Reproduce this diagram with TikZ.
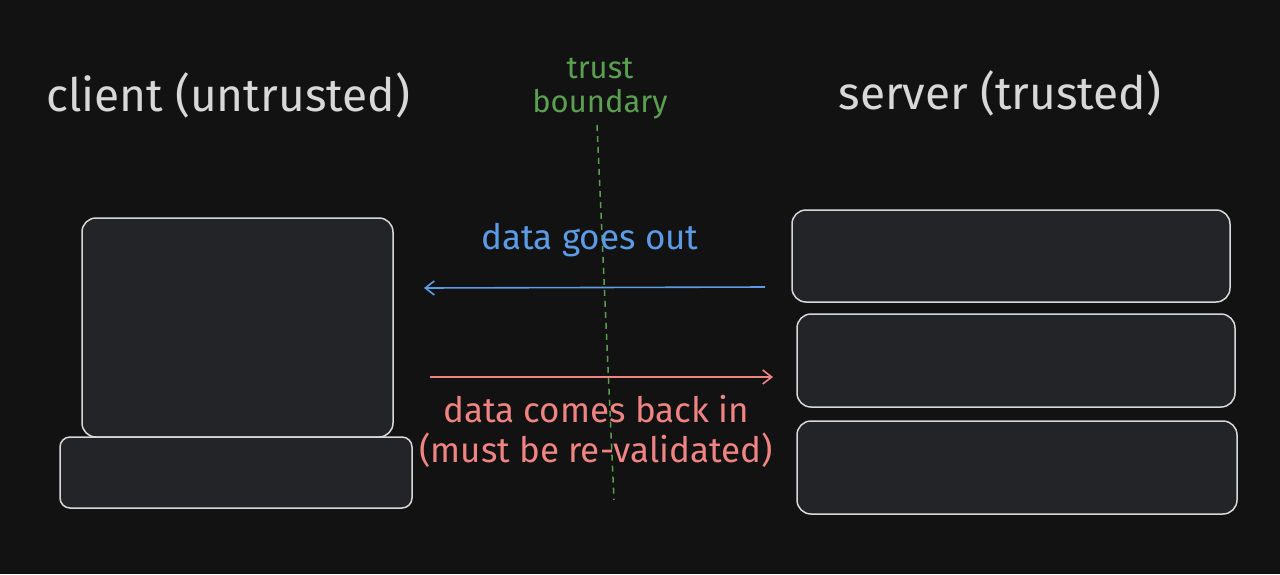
\documentclass[tikz,border=0pt]{standalone}
\usepackage{fontspec}
\setmainfont{Fira Sans}
\usetikzlibrary{positioning, arrows.meta}
\definecolor{bg}{HTML}{121212}
\definecolor{boxfill}{HTML}{232428}
\definecolor{boxline}{HTML}{D8D8D8}
\definecolor{trustgreen}{HTML}{5AA050}
\definecolor{outblue}{HTML}{5C9CE6}
\definecolor{inred}{HTML}{F08482}
\begin{document}
\begin{tikzpicture}
[
x=1pt, y=-1pt,
box-a/.style={draw=boxline, fill=boxfill, line width=1.5pt, rounded corners=14pt},
title-a/.style={text=boxline, font=\fontsize{46}{50}\selectfont},
text-a/.style={font=\fontsize{35}{40}\selectfont, align=center},
arrow-a/.style={-{Straight Barb[length=9pt, width=14pt]}, line width=1.6pt}
]
\fill[bg] (0,0) rectangle (1280,574);
\node (client-lb)  [title-a] at (228,95)  {client (untrusted)};
\node (server-lb)  [title-a] at (1000,93) {server (trusted)};
\node (trust-lb)   [text-a, text=trustgreen, font=\fontsize{31}{36}\selectfont] at (600,89) {trust\\[-2pt]boundary};
\coordinate (trust-top) at (597,125);
\coordinate (trust-bot) at (614,500);
\draw[trustgreen, dash pattern=on 6pt off 5pt, line width=1.5pt] (trust-top) -- (trust-bot);
\draw[box-a] (82,218) rectangle (393,437);
\draw[box-a, rounded corners=10pt] (60,437) rectangle (412,508);
\draw[box-a] (792,210) rectangle (1230,302);
\draw[box-a] (797,314) rectangle (1235,407);
\draw[box-a] (797,421) rectangle (1237,514);
\coordinate (out-from) at (765,287);
\coordinate (out-to)   at (424,288);
\coordinate (in-from)  at (430,377);
\coordinate (in-to)    at (773,377);
\draw[arrow-a, outblue] (out-from) -- (out-to);
\draw[arrow-a, inred] (in-from) -- (in-to);
\node (out-lb) [text-a, text=outblue] at (590,240) {data goes out};
\node (in-lb)  [text-a, text=inred]   at (596,431) {data comes back in\\(must be re-validated)};
\end{tikzpicture}
\end{document}
